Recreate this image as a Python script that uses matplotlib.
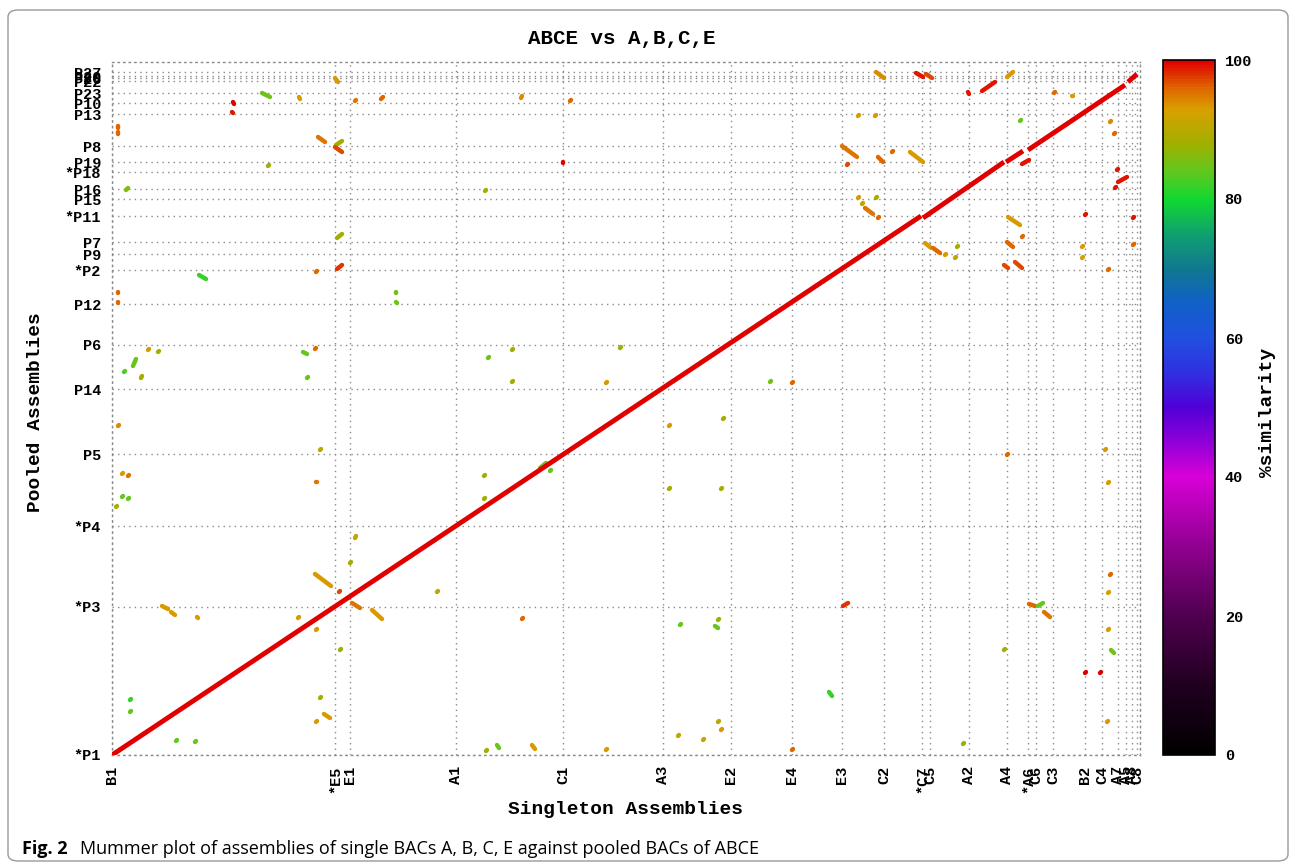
import numpy as np
import matplotlib
matplotlib.use("Agg")
import matplotlib.pyplot as plt
from matplotlib.colors import LinearSegmentedColormap, Normalize
from matplotlib.cm import ScalarMappable
from matplotlib.patches import FancyBboxPatch

W, H = 1295, 865
MONO = "Liberation Mono"
WT = "bold"

# contig boundaries along each axis (kb)
x_ticks = [0, 223, 238, 344, 451, 551, 619, 680, 730, 772, 810, 818, 857, 895,
           916, 924, 941, 973, 990, 1006, 1014, 1020, 1025]
x_labels = ["B1", "*E5", "E1", "A1", "C1", "A3", "E2", "E4", "E3", "C2", "*C7", "C5",
            "A2", "A4", "*A6", "C6", "C3", "B2", "C4", "A7", "A5", "A8", "C8"]
y_ticks = [0, 148, 229, 301, 366, 410, 451, 485, 501, 513, 539, 556, 566, 583,
           593, 609, 641, 652, 662, 674, 677, 679, 683]
y_labels = ["*P1", "*P3", "*P4", "P5", "P14", "P6", "P12", "*P2", "P9", "P7", "*P11",
            "P15", "P16", "*P18", "P19", "P8", "P13", "P10", "P23", "P22", "P26",
            "P20", "P27"]
x_max, y_max = 1028, 693

# main diagonal (x0, y0, x1, y1) kb
diagonal = [(0, 0, 809, 539), (811, 537, 892, 593), (894, 593, 911, 604),
            (916, 605, 1013, 670), (1016, 673, 1025, 681)]

# other alignments (x0, y0, x1, y1, %similarity)
hits_top = [
    (223, 677, 226, 673, 93), (764, 683, 772, 677, 94), (804, 682, 811, 678, 99),
    (814, 681, 820, 677, 97), (895, 678, 901, 683, 93), (150, 662, 158, 658, 85),
    (187, 658, 188, 656, 93), (243, 654, 244, 655, 95), (269, 656, 271, 658, 96),
    (409, 657, 410, 659, 94), (458, 654, 459, 655, 96), (121, 653, 122, 651, 100),
    (120, 643, 121, 642, 99), (856, 663, 857, 661, 99), (870, 664, 883, 673, 99),
    (942, 662, 943, 663, 96), (960, 659, 961, 659, 93),
]
hits_upper_left = [
    (6, 629, 6, 627, 96), (6, 623, 6, 621, 96), (156, 589, 157, 590, 88),
    (206, 618, 213, 613, 95), (224, 610, 230, 614, 88), (223, 608, 230, 603, 97),
    (451, 593, 451, 592, 100), (373, 564, 374, 565, 88), (14, 565, 16, 567, 86),
    (225, 517, 230, 521, 88), (225, 486, 230, 490, 98), (204, 483, 205, 484, 96),
    (87, 480, 94, 476, 82), (6, 463, 6, 462, 96), (6, 453, 6, 452, 96),
    (284, 463, 284, 462, 85), (284, 453, 285, 452, 85),
]
hits_mid_left = [
    (36, 405, 37, 406, 93), (46, 403, 47, 404, 88), (21, 389, 24, 396, 84),
    (12, 383, 13, 384, 83), (29, 377, 30, 379, 88), (191, 403, 195, 401, 84),
    (203, 406, 204, 407, 96), (195, 377, 196, 378, 84), (376, 397, 377, 398, 85),
    (400, 405, 401, 406, 88), (400, 373, 401, 374, 88), (508, 407, 509, 408, 87),
    (494, 372, 495, 373, 93), (658, 373, 659, 374, 85), (680, 372, 681, 373, 96),
    (6, 329, 7, 330, 94), (10, 281, 11, 282, 93), (16, 279, 17, 280, 95),
    (10, 258, 11, 259, 84), (16, 256, 17, 257, 84), (4, 248, 5, 249, 89),
    (204, 273, 205, 273, 95), (208, 305, 209, 306, 90), (372, 279, 373, 280, 88),
    (372, 256, 373, 257, 88), (428, 287, 434, 292, 85), (438, 284, 439, 285, 84),
    (557, 329, 558, 330, 93), (557, 266, 558, 267, 88), (611, 336, 612, 337, 88),
    (609, 266, 610, 267, 88), (895, 300, 896, 301, 96),
]
hits_low = [
    (243, 217, 244, 219, 91), (238, 192, 239, 193, 88), (203, 181, 219, 169, 93),
    (325, 163, 326, 164, 91), (227, 163, 228, 164, 97), (240, 152, 248, 147, 95),
    (260, 145, 270, 136, 93), (186, 137, 187, 138, 93), (204, 125, 205, 126, 93),
    (50, 149, 56, 146, 93), (59, 143, 63, 140, 93), (85, 138, 86, 137, 93),
    (410, 136, 411, 137, 96), (568, 130, 569, 131, 84), (603, 129, 606, 127, 84),
    (606, 135, 607, 136, 87), (731, 149, 736, 152, 98), (917, 151, 923, 149, 96),
    (926, 149, 931, 152, 84), (932, 143, 938, 138, 95), (998, 180, 999, 181, 96),
    (996, 162, 997, 163, 92), (996, 125, 997, 126, 93), (999, 105, 1002, 102, 85),
    (892, 105, 893, 106, 88), (973, 82, 974, 83, 100), (988, 82, 989, 83, 100),
    (228, 105, 229, 106, 88), (18, 55, 19, 56, 82), (18, 43, 19, 44, 84),
    (208, 57, 209, 58, 88), (212, 41, 218, 37, 93), (204, 33, 205, 34, 93),
    (717, 63, 720, 59, 82), (64, 14, 65, 15, 84), (83, 13, 84, 14, 84),
    (385, 10, 387, 7, 84), (374, 4, 375, 5, 88), (420, 10, 423, 6, 93),
    (494, 5, 495, 6, 93), (566, 19, 567, 20, 90), (591, 15, 592, 16, 90),
    (606, 33, 607, 34, 90), (609, 25, 610, 26, 93), (680, 5, 681, 6, 96),
    (851, 11, 852, 12, 88), (995, 33, 996, 34, 93), (996, 272, 997, 273, 93),
    (993, 305, 994, 306, 93),
]
hits_right = [
    (730, 609, 745, 598, 95), (735, 590, 736, 591, 97), (766, 598, 771, 593, 96),
    (780, 603, 781, 604, 96), (798, 603, 811, 593, 93), (746, 639, 747, 640, 93),
    (763, 639, 764, 640, 93), (908, 634, 909, 635, 84), (998, 633, 999, 634, 94),
    (1002, 621, 1003, 622, 96), (910, 591, 917, 595, 99), (746, 557, 747, 558, 93),
    (750, 551, 751, 552, 91), (764, 557, 765, 558, 88), (753, 547, 761, 541, 95),
    (766, 537, 767, 538, 96), (896, 538, 908, 530, 93), (910, 518, 911, 519, 96),
    (813, 512, 818, 508, 93), (821, 507, 828, 502, 96), (845, 508, 846, 509, 88),
    (895, 513, 901, 508, 96), (970, 508, 971, 509, 93), (1006, 573, 1015, 578, 99),
    (1021, 537, 1022, 538, 99), (1021, 510, 1022, 511, 96), (1005, 585, 1006, 586, 99),
    (1003, 567, 1004, 568, 99), (973, 540, 974, 541, 99), (833, 500, 834, 501, 93),
    (843, 497, 844, 498, 90), (892, 490, 896, 487, 97), (903, 493, 910, 487, 97),
    (970, 497, 971, 498, 92), (996, 485, 997, 486, 96),
]

# mummerplot-like palette
pal_pos = [0.0, 0.05, 0.10, 0.20, 0.30, 0.40, 0.45, 0.50, 0.55, 0.60, 0.65,
           0.70, 0.75, 0.80, 0.84, 0.88, 0.93, 0.96, 1.0]
pal_col = ["#000000", "#100010", "#200020", "#500050", "#900090", "#d800d8",
           "#9000d8", "#5000d8", "#3030e0", "#2050e0", "#1060c8", "#107890",
           "#10a070", "#10d830", "#60c820", "#a0b000", "#d8a000", "#e06800",
           "#e00000"]
cmap = LinearSegmentedColormap.from_list("sim", list(zip(pal_pos, pal_col)))
norm = Normalize(0, 100)

fig = plt.figure(figsize=(W / 100, H / 100), dpi=100)
ax = fig.add_axes([112 / W, 110 / H, 1028 / W, 693 / H])

for x0, y0, x1, y1, s in hits_top + hits_upper_left + hits_mid_left + hits_low + hits_right:
    ax.plot([x0, x1], [y0, y1], color=cmap(norm(s)), lw=3.2,
            solid_capstyle="round", zorder=3)
for x0, y0, x1, y1 in diagonal:
    ax.plot([x0, x1], [y0, y1], color=cmap(norm(100)), lw=3.5,
            solid_capstyle="butt", zorder=4)

ax.set_xlim(0, x_max)
ax.set_ylim(0, y_max)
ax.set_xticks(x_ticks)
ax.set_xticklabels(x_labels, rotation=90, fontfamily=MONO, fontsize=11, fontweight=WT)
ax.set_yticks(y_ticks)
ax.set_yticklabels(y_labels, fontfamily=MONO, fontsize=11, fontweight=WT)
ax.tick_params(length=0, pad=8)
ax.grid(True, color="#8a8a8a", linestyle=(0, (1, 3)), linewidth=1.0, zorder=1)
for sp in ax.spines.values():
    sp.set_linestyle((0, (1, 3)))
    sp.set_color("#8a8a8a")
    sp.set_linewidth(1.0)

fig.text(622 / W, 1 - 38 / H, "ABCE vs A,B,C,E", fontfamily=MONO, fontsize=15,
         fontweight=WT, ha="center", va="center")
fig.text(626 / W, 1 - 810 / H, "Singleton Assemblies", fontfamily=MONO, fontsize=14,
         fontweight=WT, ha="center", va="center")
fig.text(36 / W, 1 - 412 / H, "Pooled Assemblies", fontfamily=MONO, fontsize=14,
         fontweight=WT, ha="center", va="center", rotation=90)

cax = fig.add_axes([1163 / W, 110 / H, 52 / W, 695 / H])
cb = fig.colorbar(ScalarMappable(norm=norm, cmap=cmap), cax=cax)
cb.set_ticks([0, 20, 40, 60, 80, 100])
cb.ax.tick_params(length=0, pad=7, labelsize=11)
for t in cb.ax.get_yticklabels():
    t.set_fontfamily(MONO)
    t.set_fontweight(WT)
cb.outline.set_linewidth(1.2)
fig.text(1268 / W, 1 - 412 / H, "%similarity", fontfamily=MONO, fontsize=14,
         fontweight=WT, ha="center", va="center", rotation=90)

border = FancyBboxPatch((8 / W, 4 / H), 1280 / W, 851 / H,
                        boxstyle="round,pad=0,rounding_size=0.008",
                        transform=fig.transFigure, fill=False,
                        edgecolor="#9a9a9a", linewidth=1.0)
fig.patches.append(border)

fig.text(22 / W, 1 - 849 / H, "Fig. 2", fontfamily="Open Sans", fontweight="bold",
         fontsize=13, ha="left", va="center")
fig.text(80 / W, 1 - 849 / H,
         "Mummer plot of assemblies of single BACs A, B, C, E against pooled BACs of ABCE",
         fontfamily="Open Sans", fontsize=13, ha="left", va="center")

fig.savefig("out.png", dpi=100)
